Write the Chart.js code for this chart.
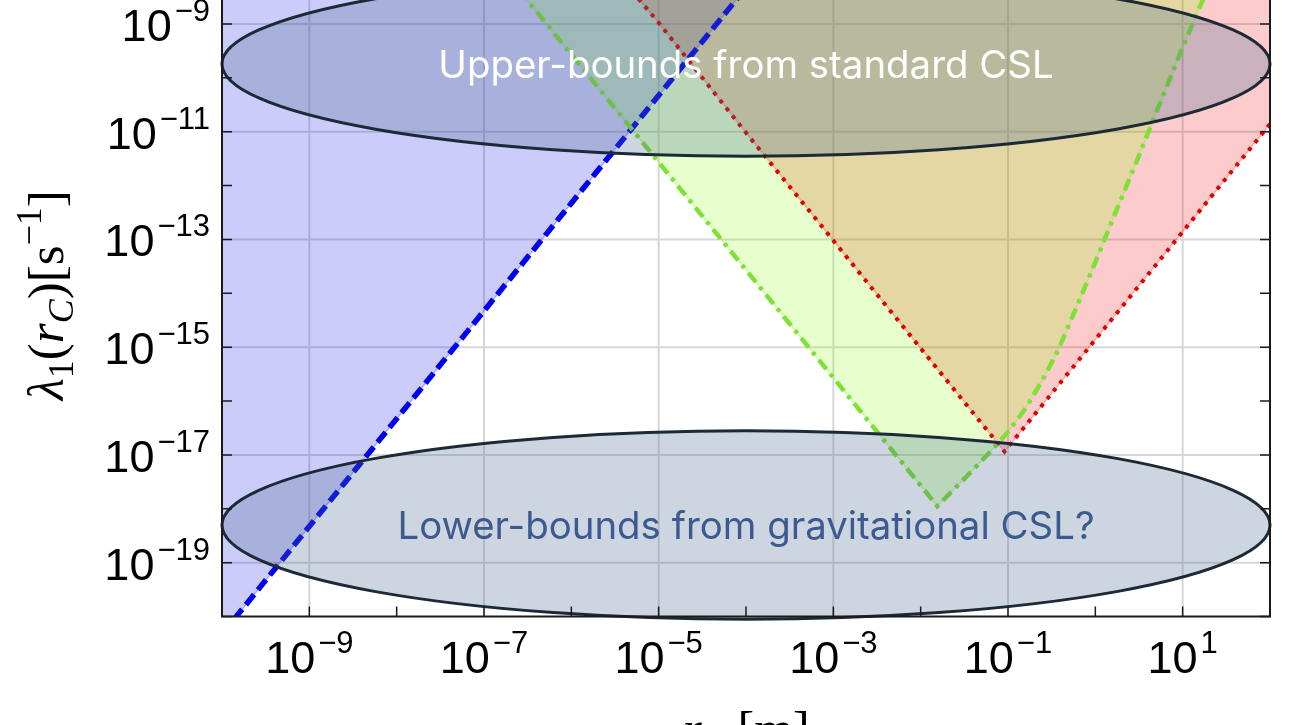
<!DOCTYPE html>
<html>
<head>
<meta charset="utf-8">
<script src="https://cdn.jsdelivr.net/npm/chart.js@4.4.0/dist/chart.umd.min.js"></script>
<style>
  html, body { margin: 0; padding: 0; background: #fff; overflow: hidden; }
  #wrap { position: absolute; left: 0; top: -30px; width: 1290px; height: 790px; }
</style>
</head>
<body>
<div id="wrap"><canvas id="chart"></canvas></div>
<script>
// blue region (dashed line, filled to the left/top)
const blueR = [1e-10, 1e-8, 1e-6, 1e-4, 1e-3];
const blueLambda = [4.7e-21, 4.7e-17, 4.7e-13, 4.7e-9, 4.7e-7];

// red region (dotted V)
const redR = [2.5e-6, 1e-5, 1e-4, 1e-3, 1e-2, 0.0912, 1, 10, 100];
const redLambda = [1.5e-8, 1.05e-9, 9.5e-12, 9.5e-14, 9.5e-16, 1.15e-17, 1.38e-15, 1.38e-13, 1.38e-11];

// green region (dash-dot V, right side curved)
const greenR = [1.58e-7, 1e-6, 1e-5, 1e-4, 1e-3, 0.0155, 0.0316, 0.062, 0.1, 0.158, 0.25, 0.38, 0.63, 1, 3.16, 5.65, 10, 16.9, 39.8];
const greenLambda = [1.07e-8, 2.7e-10, 2.7e-12, 2.7e-14, 2.7e-16, 1.12e-18, 3.59e-18, 1.12e-17, 2.66e-17, 7.2e-17, 2.48e-16, 9.2e-16, 6.3e-15, 3.8e-14, 3.6e-12, 3.76e-11, 3.67e-10, 2.7e-9, 8.5e-8];

// the two ellipses
const boundLabels = ["Upper-bounds from standard CSL", "Lower-bounds from gravitational CSL?"];
const boundRLow = [1e-10, 1e-10];
const boundRHigh = [1e2, 1e2];
const boundLambdaHigh = [9.3e-9, 2.8e-17];
const boundLambdaLow = [3.5e-12, 8.9e-21];

// axes
const xDecades = [-10, -9, -8, -7, -6, -5, -4, -3, -2, -1, 0, 1, 2];
const yDecades = [-20, -19, -18, -17, -16, -15, -14, -13, -12, -11, -10, -9, -8];
const xTickExps = ["\u22129", "\u22127", "\u22125", "\u22123", "\u22121", "1"];
const xTickValues = [1e-9, 1e-7, 1e-5, 1e-3, 1e-1, 1e1];
const yTickExps = ["\u22129", "\u221211", "\u221213", "\u221215", "\u221217", "\u221219"];
const yTickValues = [1e-9, 1e-11, 1e-13, 1e-15, 1e-17, 1e-19];

const pts = (xs, ys) => xs.map((v, i) => ({ x: v, y: ys[i] }));

function richText(ctx, parts, x, y, align) {
  let w = 0;
  parts.forEach(p => { ctx.font = p[1]; w += ctx.measureText(p[0]).width + (p[3] || 0); });
  let cx = align === "center" ? x - w / 2 : align === "right" ? x - w : x;
  ctx.textAlign = "left";
  ctx.textBaseline = "alphabetic";
  parts.forEach(p => {
    ctx.font = p[1];
    cx += p[3] || 0;
    ctx.fillText(p[0], cx, y + p[2]);
    cx += ctx.measureText(p[0]).width;
  });
}

const tickFont = '45px "Liberation Sans", Arial, sans-serif';
const supFont = '31px "Liberation Sans", Arial, sans-serif';
const serif = '"Liberation Serif", "Times New Roman", serif';

const decor = {
  id: "decor",
  beforeDatasetsDraw(chart) {
    // grid only on the labelled decades
    const { ctx, chartArea: a, scales: { x, y } } = chart;
    ctx.save();
    ctx.strokeStyle = "rgba(0,0,0,0.16)";
    ctx.lineWidth = 2;
    ctx.beginPath();
    xTickValues.forEach(v => {
      const px = x.getPixelForValue(v);
      ctx.moveTo(px, a.top); ctx.lineTo(px, a.bottom);
    });
    yTickValues.forEach(v => {
      const py = y.getPixelForValue(v);
      ctx.moveTo(a.left, py); ctx.lineTo(a.right, py);
    });
    ctx.stroke();
    ctx.restore();
  },
  afterDatasetsDraw(chart) {
    const { ctx, chartArea: a, scales: { x, y } } = chart;
    ctx.save();
    // ellipses
    boundLabels.forEach((label, i) => {
      const x0 = x.getPixelForValue(boundRLow[i]);
      const x1 = x.getPixelForValue(boundRHigh[i]);
      const y0 = y.getPixelForValue(boundLambdaHigh[i]);
      const y1 = y.getPixelForValue(boundLambdaLow[i]);
      const cx = (x0 + x1) / 2, cy = (y0 + y1) / 2;
      ctx.beginPath();
      ctx.ellipse(cx, cy, (x1 - x0) / 2, (y1 - y0) / 2, 0, 0, Math.PI * 2);
      ctx.fillStyle = "rgba(73,106,142,0.275)";
      ctx.fill();
      ctx.lineWidth = 3;
      ctx.strokeStyle = "#1c2a36";
      ctx.stroke();
      const size = 38.4;
      ctx.font = size + "px Inter, sans-serif";
      ctx.textAlign = "center";
      ctx.textBaseline = "alphabetic";
      ctx.fillStyle = i === 0 ? "#ffffff" : "#3b5a91";
      ctx.fillText(label, cx, cy + size * 0.727 / 2);
    });

    // frame with inward ticks
    ctx.strokeStyle = "#1a1a1a";
    ctx.lineWidth = 2;
    ctx.strokeRect(a.left, a.top, a.right - a.left, a.bottom - a.top);
    ctx.lineWidth = 1.5;
    ctx.beginPath();
    xDecades.forEach(e => {
      const px = x.getPixelForValue(Math.pow(10, e));
      ctx.moveTo(px, a.bottom); ctx.lineTo(px, a.bottom - 10);
      ctx.moveTo(px, a.top); ctx.lineTo(px, a.top + 10);
    });
    yDecades.forEach(e => {
      const py = y.getPixelForValue(Math.pow(10, e));
      ctx.moveTo(a.left, py); ctx.lineTo(a.left + 10, py);
      ctx.moveTo(a.right, py); ctx.lineTo(a.right - 10, py);
    });
    ctx.stroke();
    ctx.restore();
  },
  afterDraw(chart) {
    const { ctx, chartArea: a, scales: { x, y } } = chart;
    ctx.save();
    ctx.fillStyle = "#000";
    xTickValues.forEach((v, i) => {
      richText(ctx, [["10", tickFont, 0], [xTickExps[i], supFont, -20, 3]],
        x.getPixelForValue(v), a.bottom + 56.5, "center");
    });
    yTickValues.forEach((v, i) => {
      richText(ctx, [["10", tickFont, 0], [yTickExps[i], supFont, -20, 3]],
        a.left - 12, y.getPixelForValue(v) + 17, "right");
    });

    // axis titles
    richText(ctx, [
      ["r", "italic 50px " + serif, 0],
      ["C", "italic 35px " + serif, 10],
      [" [m]", "50px " + serif, 0]
    ], (a.left + a.right) / 2, a.bottom + 129.5, "center");

    ctx.translate(63, (a.top + a.bottom) / 2 + 2);
    ctx.rotate(-Math.PI / 2);
    richText(ctx, [
      ["\u03bb", "italic 51px " + serif, 0],
      ["1", "36px " + serif, 10],
      ["(", "51px " + serif, 0],
      ["r", "italic 51px " + serif, 0],
      ["C", "italic 36px " + serif, 10],
      [")[s", "51px " + serif, 0],
      ["\u22121", "36px " + serif, -22],
      ["]", "51px " + serif, 0]
    ], 0, 0, "center");
    ctx.restore();
  }
};

function initChart() {
  const ctx = document.getElementById("chart");
  const line = { pointRadius: 0, tension: 0 };
  new Chart(ctx, {
    type: "line",
    data: {
      datasets: [
        // fills (drawn first: order 2)
        { ...line, data: pts(greenR, greenLambda), fill: "end", order: 2,
          backgroundColor: "rgba(128,255,0,0.2)", borderColor: "rgba(128,230,50,0.3)", borderWidth: 1.5 },
        { ...line, data: pts(redR, redLambda), fill: "end", order: 2,
          backgroundColor: "rgba(240,0,0,0.2)", borderColor: "rgba(230,0,0,0.25)", borderWidth: 1.5 },
        { ...line, data: pts(blueR, blueLambda), fill: "end", order: 2,
          backgroundColor: "rgba(0,0,230,0.2)", borderColor: "rgba(0,0,230,0.25)", borderWidth: 1.5 },
        // boundary lines
        { ...line, data: pts(greenR, greenLambda), fill: false, order: 1,
          borderColor: "#7fe035", borderWidth: 4.5, borderDash: [12, 6, 4, 6] },
        { ...line, data: pts(redR, redLambda), fill: false, order: 1,
          borderColor: "#e00000", borderWidth: 4, borderDash: [4, 6] },
        { ...line, data: pts(blueR, blueLambda), fill: false, order: 1,
          borderColor: "#0000ee", borderWidth: 5.5, borderDash: [13, 6] }
      ]
    },
    options: {
      animation: false,
      responsive: true,
      maintainAspectRatio: false,
      layout: { padding: { left: 222, right: 20, top: 0, bottom: 143.5 } },
      plugins: { legend: { display: false }, tooltip: { enabled: false } },
      scales: {
        x: {
          type: "logarithmic", min: 1e-10, max: 1e2,
          afterFit: s => { s.height = 0; },
          ticks: { display: false },
          grid: { display: false },
          border: { display: false }
        },
        y: {
          type: "logarithmic", min: 1e-20, max: 1e-8,
          afterFit: s => { s.width = 0; },
          ticks: { display: false },
          grid: { display: false },
          border: { display: false }
        }
      }
    },
    plugins: [decor]
  });
}

document.addEventListener("DOMContentLoaded", () => initChart());
</script>
</body>
</html>
